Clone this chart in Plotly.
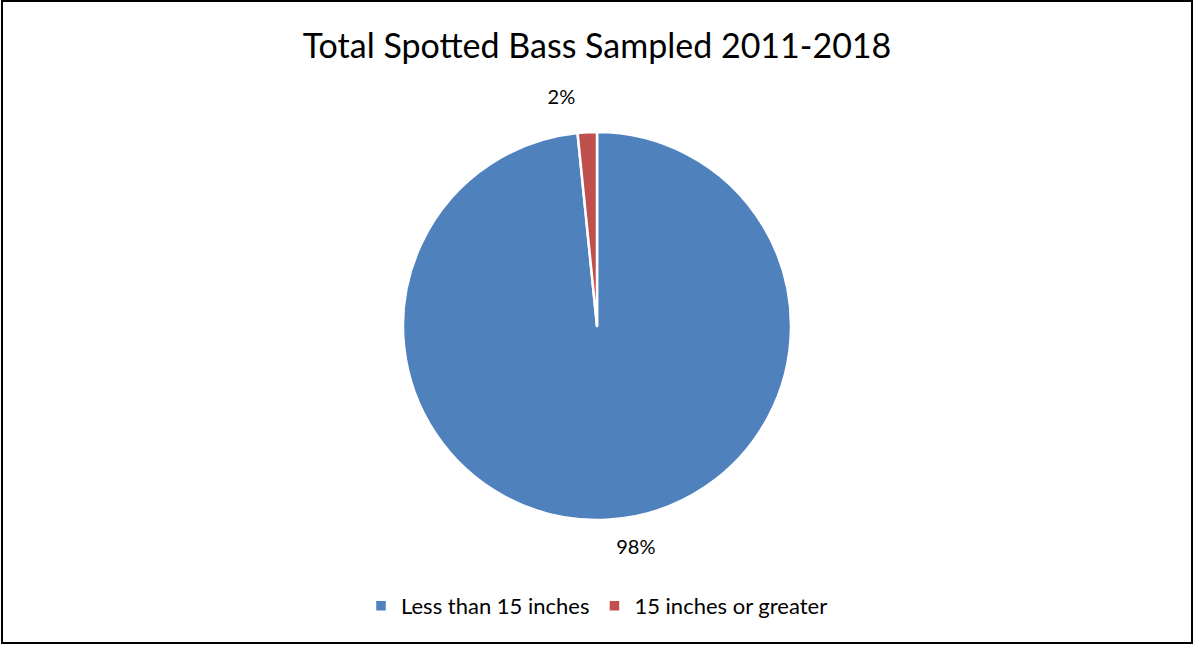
import plotly.graph_objects as go

categories = ["Less than 15 inches", "15 inches or greater"]
values = [98.4, 1.6]
colors = ["#4F81BD", "#C0504D"]

W, H = 1194, 646
cx, cy, r = 597, 326, 194

pad = "<span style='font-size:8px'>\u00a0</span>"
fig = go.Figure(go.Pie(
    labels=categories,
    values=values,
    sort=False,
    direction="clockwise",
    rotation=0,
    marker=dict(colors=colors, line=dict(color="white", width=2.5)),
    textposition="outside",
    texttemplate=[pad + "<br>%{percent:.0%}", "%{percent:.0%}<br>" + pad],
    textfont=dict(size=20, color="black", family="Lato"),
    domain=dict(x=[(cx - r) / W, (cx + r) / W], y=[1 - (cy + r) / H, 1 - (cy - r) / H]),
    showlegend=True,
    hoverinfo="label+percent",
))

fig.update_layout(
    width=W, height=H,
    margin=dict(l=0, r=0, t=0, b=0),
    paper_bgcolor="white",
    plot_bgcolor="white",
    font=dict(family="Lato", color="black"),
    title=dict(text="Total Spotted Bass Sampled 2011-2018", x=0.5, xanchor="center",
               y=1 - 46 / H, yanchor="middle", font=dict(size=34, family="Lato", color="black")),
    legend=dict(orientation="h", x=0.5, xanchor="center", y=1 - 606 / H, yanchor="middle",
                font=dict(size=22, family="Lato", color="black"), itemwidth=30,
                traceorder="normal"),
    shapes=[dict(type="rect", xref="paper", yref="paper", x0=2 / W, x1=1 - 2 / W, y0=3 / H, y1=1 - 1 / H,
                 line=dict(color="black", width=2), fillcolor="rgba(0,0,0,0)")],
)

fig.write_html("out.html")
